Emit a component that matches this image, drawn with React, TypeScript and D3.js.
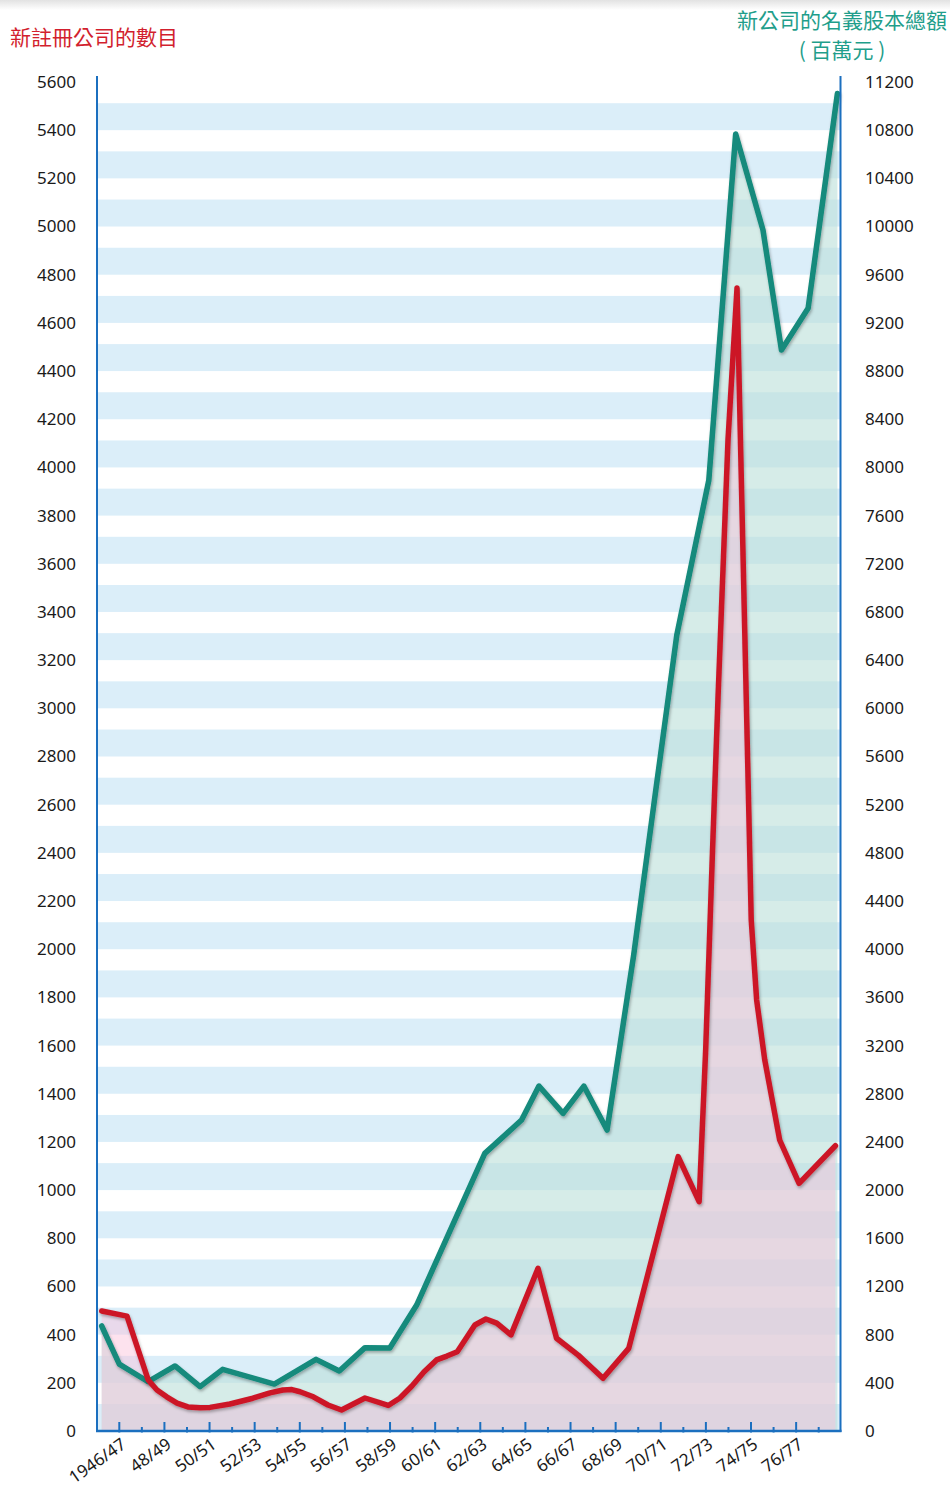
import React from 'react'
import * as d3 from 'd3'

// number of newly registered companies (left axis) – year position, count
const countYears = [
  1945.22, 1946.34, 1947.28, 1947.67, 1948.1, 1948.56, 1949.04, 1949.58, 1950.02, 1950.9,
  1951.92, 1952.68, 1953.25, 1953.65, 1954.01, 1954.6, 1955.25, 1955.85, 1956.89, 1957.92,
  1958.44, 1958.97, 1959.5, 1960.06, 1960.52, 1960.98, 1961.76, 1962.25, 1962.73, 1963.36,
  1964.56, 1965.38, 1966.34, 1966.86, 1967.44, 1968.58, 1970.77, 1971.7, 1971.99, 1972.31,
  1972.54, 1972.98, 1973.38, 1974.01, 1974.25, 1974.61, 1975.27, 1976.13, 1977.74,
]
const counts = [
  498, 477, 212, 170, 142, 116, 100, 97, 98, 112,
  136, 158, 170, 172, 163, 142, 108, 87, 137, 106,
  137, 187, 245, 295, 311, 329, 440, 465, 448, 399,
  675, 385, 315, 270, 219, 343, 1139, 952, 1582, 2453,
  3051, 4114, 4745, 2121, 1789, 1540, 1208, 1028, 1184,
]

// nominal capital of new companies, HK$ million (right axis)
const capitalYears = [
  1945.22, 1946.0, 1947.28, 1948.47, 1949.58, 1950.58, 1952.87, 1954.72, 1955.75, 1956.89,
  1957.99, 1959.18, 1962.2, 1963.83, 1964.6, 1965.67, 1966.59, 1967.62, 1968.8, 1969.78,
  1970.71, 1972.13, 1973.32, 1974.53, 1975.35, 1976.53, 1977.83,
]
const capital = [
  872, 556, 409, 540, 368, 512, 390, 595, 498, 692,
  689, 1046, 2305, 2582, 2864, 2637, 2864, 2499, 3952, 5322,
  6608, 7895, 10768, 9971, 8975, 9321, 11105,
]

const tickYears = d3.range(1946, 1978)
const leftTicks = d3.range(0, 5601, 200)
const rightTicks = d3.range(0, 11201, 400)
const yearLabel = (y: number) =>
  y === 1946 ? '1946/47' : `${y % 100}/${(y + 1) % 100}`

const leftTitle = '新註冊公司的數目'
const rightTitle = ['新公司的名義股本總額', '( 百萬元 )']

const W = 950
const H = 1488
const axisColor = '#1b6fbf'
const red = '#cc1628'
const teal = '#138a7b'
const numFont = '"Noto Sans", "Open Sans", sans-serif'
const cjkFont = '"Noto Sans CJK TC", "Noto Sans", sans-serif'

export default function App() {
  const left = 97
  const right = 840.5
  const bottom = 1431
  const top = 82

  const x = d3.scaleLinear().domain([1946, 1977]).range([119.3, 818.7])
  const yL = d3.scaleLinear().domain([0, 5600]).range([bottom, top])
  const yR = d3.scaleLinear().domain([0, 11200]).range([bottom, top])

  const countPts = countYears.map((yr, i) => [yr, counts[i]] as [number, number])
  const capPts = capitalYears.map((yr, i) => [yr, capital[i]] as [number, number])

  const countLine = d3.line<[number, number]>()
    .x((d) => x(d[0])).y((d) => yL(d[1]))
  const countArea = d3.area<[number, number]>()
    .x((d) => x(d[0])).y0(bottom).y1((d) => yL(d[1]))
  const capLine = d3.line<[number, number]>()
    .x((d) => x(d[0])).y((d) => yR(d[1]))
  const capArea = d3.area<[number, number]>()
    .x((d) => x(d[0])).y0(bottom).y1((d) => yR(d[1]))

  return (
    <svg width={W} height={H} style={{ position: 'absolute', left: 0, top: 0, background: '#fff' }}>
      <defs>
        <linearGradient id="topShade" x1="0" y1="0" x2="0" y2="1">
          <stop offset="0" stopColor="#e2e2e2" />
          <stop offset="1" stopColor="#ffffff" />
        </linearGradient>
        <filter id="shadow" x="-10%" y="-10%" width="120%" height="120%">
          <feDropShadow dx="1" dy="2" stdDeviation="1.6" floodColor="#000" floodOpacity="0.3" />
        </filter>
      </defs>
      <rect x={0} y={0} width={W} height={10} fill="url(#topShade)" />

      {/* stripes */}
      {leftTicks.slice(0, -1).map((v) => (
        <rect key={v} x={left} y={yL(v + 112)} width={right - left}
          height={yL(v) - yL(v + 112)} fill="#dbeef9" />
      ))}

      {/* areas */}
      <path d={capArea(capPts) || ''} fill="rgb(187,223,217)" fillOpacity={0.6} />
      <path d={countArea(countPts) || ''} fill="rgb(250,190,218)" fillOpacity={0.45} />

      {/* lines */}
      <path d={capLine(capPts) || ''} fill="none" stroke={teal} strokeWidth={5.5}
        strokeLinejoin="round" strokeLinecap="round" filter="url(#shadow)" />
      <path d={countLine(countPts) || ''} fill="none" stroke={red} strokeWidth={5.5}
        strokeLinejoin="round" strokeLinecap="round" filter="url(#shadow)" />

      {/* axes */}
      <line x1={left} x2={left} y1={76} y2={bottom + 1} stroke={axisColor} strokeWidth={2} />
      <line x1={right} x2={right} y1={76} y2={bottom + 1} stroke={axisColor} strokeWidth={2} />
      <line x1={left - 1} x2={right + 1} y1={bottom} y2={bottom} stroke={axisColor} strokeWidth={2.5} />
      {tickYears.map((yr, i) => (
        <line key={yr} x1={x(yr)} x2={x(yr)} y1={i % 2 === 0 ? bottom - 9 : bottom - 4}
          y2={bottom + 1.5} stroke={axisColor} strokeWidth={2} />
      ))}

      {/* left labels */}
      {leftTicks.map((v) => (
        <text key={v} x={76} y={yL(v)} dy="0.35em" textAnchor="end"
          fontFamily={numFont} fontSize={17} fill="#1a1a1a">{v}</text>
      ))}
      {/* right labels */}
      {rightTicks.map((v) => (
        <text key={v} x={865} y={yR(v)} dy="0.35em" textAnchor="start"
          fontFamily={numFont} fontSize={17} fill="#1a1a1a">{v}</text>
      ))}
      {/* x labels */}
      {tickYears.filter((_, i) => i % 2 === 0).map((yr) => (
        <text key={yr} textAnchor="end" fontFamily={numFont} fontSize={17} fill="#1a1a1a"
          transform={`translate(${x(yr) + 8},${bottom + 16}) rotate(-35)`}>{yearLabel(yr)}</text>
      ))}

      {/* titles */}
      <text x={10} y={45} fontFamily={cjkFont} fontSize={21} fill="#d21f2e">{leftTitle}</text>
      <text x={842} y={28} textAnchor="middle" fontFamily={cjkFont} fontSize={21} fill="#1f9e8b">{rightTitle[0]}</text>
      <text x={842} y={58} textAnchor="middle" fontFamily={cjkFont} fontSize={21} fill="#1f9e8b">{rightTitle[1]}</text>
    </svg>
  )
}
